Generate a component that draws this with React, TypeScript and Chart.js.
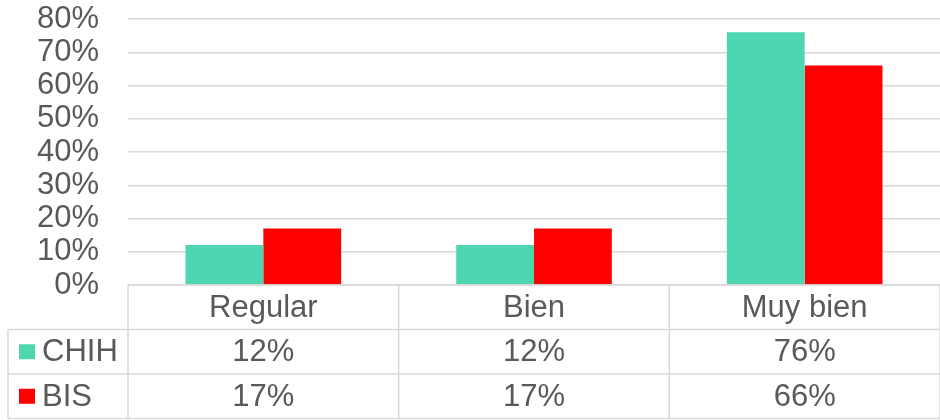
import React, { useEffect, useRef } from "react";
import { Chart, registerables } from "chart.js";

Chart.register(...registerables);

const categories = ["Regular", "Bien", "Muy bien"];
const seriesNames = ["CHIH", "BIS"];
const chihValues = [12, 12, 76];
const bisValues = [17, 17, 66];
const seriesColors = ["#4ED6B1", "#FF0000"];
const yMax = 80;
const yStep = 10;

const TEXT = "#595959";
const LINE = "#D9D9D9";
const FONT = "Liberation Sans, Arial, sans-serif";
const FS = 31;

const tablePlugin = {
  id: "dataTable",
  afterDraw(chart: any) {
    const ctx = chart.ctx;
    const area = chart.chartArea;
    const xs = chart.scales.x;
    const n = categories.length;
    const bounds: number[] = [area.left];
    for (let i = 0; i < n - 1; i++) {
      bounds.push((xs.getPixelForValue(i) + xs.getPixelForValue(i + 1)) / 2);
    }
    bounds.push(area.right);
    const top = area.bottom;
    const rowH = 44.5;
    const r1 = top + rowH;
    const r2 = r1 + rowH;
    const r3 = r2 + rowH;
    const tableLeft = 8;

    ctx.save();
    ctx.strokeStyle = LINE;
    ctx.lineWidth = 1.5;
    ctx.beginPath();
    ctx.moveTo(area.left, top); ctx.lineTo(area.right, top);
    ctx.moveTo(tableLeft, r1); ctx.lineTo(area.right, r1);
    ctx.moveTo(tableLeft, r2); ctx.lineTo(area.right, r2);
    ctx.moveTo(tableLeft, r3); ctx.lineTo(area.right, r3);
    for (let i = 0; i < bounds.length; i++) {
      ctx.moveTo(bounds[i], top); ctx.lineTo(bounds[i], r3);
    }
    ctx.moveTo(tableLeft, r1); ctx.lineTo(tableLeft, r3);
    ctx.stroke();

    ctx.fillStyle = TEXT;
    ctx.font = `${FS}px ${FONT}`;
    ctx.textAlign = "center";
    ctx.textBaseline = "middle";
    for (let i = 0; i < n; i++) {
      const cx = (bounds[i] + bounds[i + 1]) / 2;
      ctx.fillText(categories[i], cx, top + rowH / 2 + 1);
      ctx.fillText(chihValues[i] + "%", cx, r1 + rowH / 2 + 1);
      ctx.fillText(bisValues[i] + "%", cx, r2 + rowH / 2 + 1);
    }
    const rows = [r1, r2];
    for (let s = 0; s < seriesNames.length; s++) {
      const cy = rows[s] + rowH / 2;
      ctx.fillStyle = seriesColors[s];
      ctx.fillRect(19, cy - 7.5, 16, 15);
      ctx.fillStyle = TEXT;
      ctx.textAlign = "left";
      ctx.fillText(seriesNames[s], 42, cy + 1);
    }
    ctx.restore();
  },
};

export default function App() {
  const ref = useRef<HTMLCanvasElement>(null);
  useEffect(() => {
    document.body.style.margin = "0";
    const chart = new Chart(ref.current!, {
      type: "bar",
      data: {
        labels: categories,
        datasets: [
          { label: seriesNames[0], data: chihValues, backgroundColor: seriesColors[0] },
          { label: seriesNames[1], data: bisValues, backgroundColor: seriesColors[1] },
        ],
      },
      options: {
        animation: false,
        responsive: false,
        devicePixelRatio: 1,
        datasets: { bar: { categoryPercentage: 0.575, barPercentage: 1 } },
        layout: { padding: { top: 19, bottom: 135, right: 0, left: 0 } },
        plugins: { legend: { display: false }, tooltip: { enabled: false } },
        scales: {
          x: { display: false },
          y: {
            min: 0,
            max: yMax,
            afterFit(scale: any) {
              scale.width = 128;
              scale.paddingTop = 0;
              scale.paddingBottom = 0;
            },
            border: { display: false },
            grid: { color: LINE, lineWidth: 1.5, drawTicks: false },
            ticks: {
              stepSize: yStep,
              autoSkip: false,
              padding: 29,
              color: TEXT,
              font: { family: FONT, size: FS, lineHeight: 1 },
              callback: (v: any) => v + "%",
            },
          },
        },
      },
      plugins: [tablePlugin],
    });
    return () => chart.destroy();
  }, []);
  return <canvas ref={ref} width={940} height={420} style={{ display: "block" }} />;
}
